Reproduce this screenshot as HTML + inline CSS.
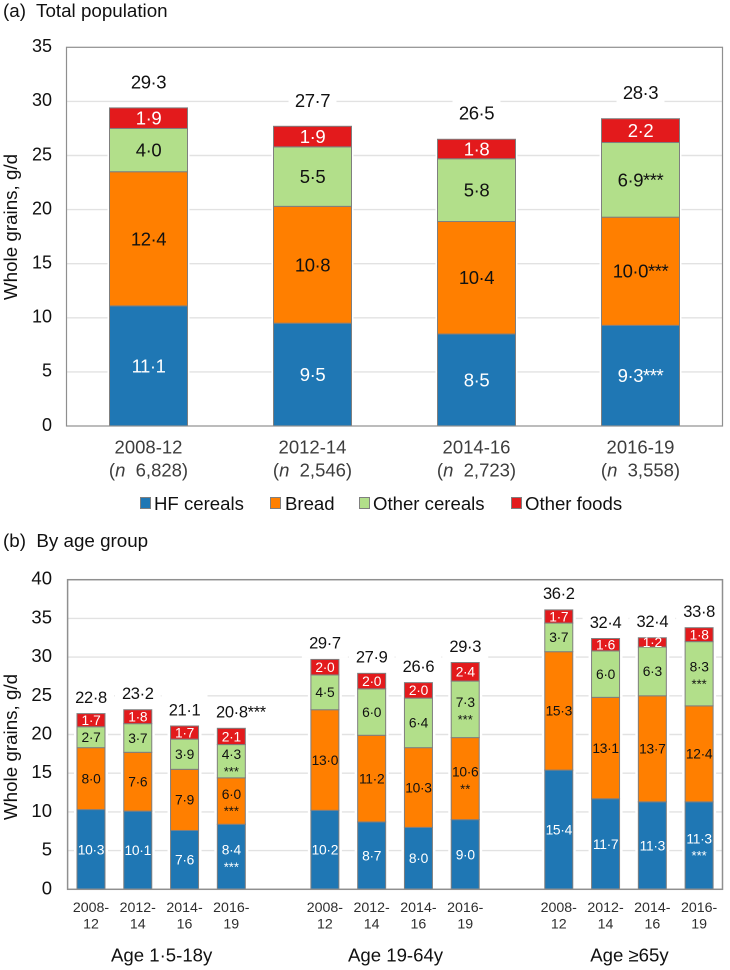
<!DOCTYPE html>
<html lang="en">
<head>
<meta charset="utf-8">
<title>Whole grains intake</title>
<style>
html,body{margin:0;padding:0;background:#fff;}
svg{display:block;font-family:"Liberation Sans",Arial,sans-serif;}
text{fill:#111;}
</style>
</head>
<body>
<svg id="chart" width="730" height="970" viewBox="0 0 730 970" xmlns="http://www.w3.org/2000/svg">
  <text x="3" y="17" font-size="18.8" xml:space="preserve">(a)  Total population</text>
  <text x="3" y="547" font-size="18.8" xml:space="preserve">(b)  By age group</text>
  <text transform="translate(17,227) rotate(-90)" text-anchor="middle" font-size="18.8">Whole grains, g/d</text>
  <text transform="translate(17,747) rotate(-90)" text-anchor="middle" font-size="18.8">Whole grains, g/d</text>
  <g>
    <rect x="140.5" y="497.5" width="10" height="11" fill="#1f77b4" stroke="#7f7f7f"/>
    <text x="154" y="510" font-size="18.6">HF cereals</text>
    <rect x="270.5" y="497.5" width="10" height="11" fill="#ff7f00" stroke="#7f7f7f"/>
    <text x="285" y="510" font-size="18.6">Bread</text>
    <rect x="359.5" y="497.5" width="10" height="11" fill="#b2df8a" stroke="#7f7f7f"/>
    <text x="373" y="510" font-size="18.6">Other cereals</text>
    <rect x="511.5" y="497.5" width="10" height="11" fill="#e31a1c" stroke="#7f7f7f"/>
    <text x="525" y="510" font-size="18.6">Other foods</text>
  </g>
  <g id="panel-a"></g>
  <g id="panel-b"></g>
</svg>
<script>
// Panel (a) data
const periodsA = ['2008-12', '2012-14', '2014-16', '2016-19'];
const sampleSizesA = ['6,828', '2,546', '2,723', '3,558'];
const hfCerealsA = [11.1, 9.5, 8.5, 9.3];
const breadA = [12.4, 10.8, 10.4, 10.0];
const otherCerealsA = [4.0, 5.5, 5.8, 6.9];
const otherFoodsA = [1.9, 1.9, 1.8, 2.2];
const totalsA = [29.3, 27.7, 26.5, 28.3];
const hfCerealsSigA = ['', '', '', '***'];
const breadSigA = ['', '', '', '***'];
const otherCerealsSigA = ['', '', '', '***'];
const otherFoodsSigA = ['', '', '', ''];
const totalsSigA = ['', '', '', ''];
const yTicksA = [0, 5, 10, 15, 20, 25, 30, 35];

// Panel (b) data
const periodsB = [
  '2008-', '2012-', '2014-', '2016-',
  '2008-', '2012-', '2014-', '2016-',
  '2008-', '2012-', '2014-', '2016-'
];
const periodEndsB = ['12', '14', '16', '19', '12', '14', '16', '19', '12', '14', '16', '19'];
const ageGroupsB = ['Age 1·5-18y', 'Age 19-64y', 'Age ≥65y'];
const hfCerealsB = [10.3, 10.1, 7.6, 8.4, 10.2, 8.7, 8.0, 9.0, 15.4, 11.7, 11.3, 11.3];
const breadB = [8.0, 7.6, 7.9, 6.0, 13.0, 11.2, 10.3, 10.6, 15.3, 13.1, 13.7, 12.4];
const otherCerealsB = [2.7, 3.7, 3.9, 4.3, 4.5, 6.0, 6.4, 7.3, 3.7, 6.0, 6.3, 8.3];
const otherFoodsB = [1.7, 1.8, 1.7, 2.1, 2.0, 2.0, 2.0, 2.4, 1.7, 1.6, 1.2, 1.8];
const totalsB = [22.8, 23.2, 21.1, 20.8, 29.7, 27.9, 26.6, 29.3, 36.2, 32.4, 32.4, 33.8];
const hfCerealsSigB = ['', '', '', '***', '', '', '', '', '', '', '', '***'];
const breadSigB = ['', '', '', '***', '', '', '', '**', '', '', '', ''];
const otherCerealsSigB = ['', '', '', '***', '', '', '', '***', '', '', '', '***'];
const otherFoodsSigB = ['', '', '', '', '', '', '', '', '', '', '', ''];
const totalsSigB = ['', '', '', '***', '', '', '', '', '', '', '', ''];
const yTicksB = [0, 5, 10, 15, 20, 25, 30, 35, 40];

const SVGNS = 'http://www.w3.org/2000/svg';
const seriesNames = ['hf-cereals', 'bread', 'other-cereals', 'other-foods'];
const seriesFill = ['#1f77b4', '#ff7f00', '#b2df8a', '#e31a1c'];
const seriesText = ['#fff', '#111', '#111', '#fff'];

function make(tag, attrs, parent, text) {
  const el = document.createElementNS(SVGNS, tag);
  for (const k in attrs) el.setAttribute(k, attrs[k]);
  if (text !== undefined) el.textContent = text;
  parent.appendChild(el);
  return el;
}
function fmt(v) {
  return v.toFixed(1).replace('.', '·');
}

function drawPanel(root, cfg) {
  const yScale = v => cfg.bottom - (v / cfg.yMax) * (cfg.bottom - cfg.top);
  const band = (cfg.right - cfg.left) / cfg.slotCount;
  const xCenter = i => cfg.left + band * (cfg.slot(i) + 0.5);

  // plot background and gridlines
  cfg.ticks.forEach(t => {
    const y = yScale(t);
    if (t > 0 && t < cfg.yMax) {
      const line = make('line', { x1: cfg.left, x2: cfg.right, y1: y, y2: y, stroke: '#e2e2e2', 'stroke-width': 1.4 }, root);
      
      
    }
    const label = make('text', { x: 52, y: y + cfg.tickSize * 0.35 - 1.5, 'text-anchor': 'end', 'font-size': cfg.tickSize }, root, String(t));
    
    
  });

  // white backing behind total labels and bars
  cfg.totals.forEach((total, i) => {
    const sum = cfg.series.reduce((a, s) => a + s[i], 0);
    const cy = yScale(sum) - cfg.totalGap;
    const back = make('rect', {
      x: xCenter(i) - cfg.totalBackW / 2,
      y: cy - cfg.totalBackH / 2,
      width: cfg.totalBackW,
      height: cfg.totalBackH,
      fill: '#fff'
    }, root);
    
    
    const halo = make('rect', {
      x: xCenter(i) - cfg.barWidth / 2 - cfg.halo,
      y: yScale(sum),
      width: cfg.barWidth + cfg.halo * 2,
      height: cfg.bottom - yScale(sum),
      fill: '#fff'
    }, root);
    
    
  });

  // stacked bars
  cfg.totals.forEach((total, i) => {
    let base = 0;
    cfg.series.forEach((values, s) => {
      const v = values[i];
      const y0 = yScale(base), y1 = yScale(base + v);
      const bar = make('rect', {
        x: xCenter(i) - cfg.barWidth / 2,
        y: y1,
        width: cfg.barWidth,
        height: y0 - y1,
        fill: seriesFill[s],
        stroke: '#7f7f7f',
        'stroke-width': 1
      }, root);
      
      
      base += v;
    });
  });

  // segment labels
  cfg.totals.forEach((total, i) => {
    let base = 0;
    cfg.series.forEach((values, s) => {
      const v = values[i];
      const c = yScale(base + v / 2);
      const sig = cfg.sig[s][i];
      if (cfg.inlineStars || !sig) {
        const t = make('text', {
          x: xCenter(i), y: c + cfg.segSize * 0.35,
          'text-anchor': 'middle', 'font-size': cfg.segSize,
          'letter-spacing': cfg.segSpacing
        }, root, fmt(v) + sig);
        t.style.fill = seriesText[s];
        
        
      } else {
        const t = make('text', {
          x: xCenter(i), y: c - 7 + cfg.segSize * 0.35,
          'text-anchor': 'middle', 'font-size': cfg.segSize,
          'letter-spacing': cfg.segSpacing
        }, root, fmt(v));
        t.style.fill = seriesText[s];
        
        
        const st = make('text', {
          x: xCenter(i), y: c + 7 + 13 * 0.59,
          'text-anchor': 'middle', 'font-size': 13
        }, root, sig);
        st.style.fill = seriesText[s];
        
        
      }
      base += v;
    });
  });

  // total labels
  cfg.totals.forEach((total, i) => {
    const sum = cfg.series.reduce((a, s) => a + s[i], 0);
    const sig = cfg.totalSig[i];
    const shift = sig ? sig.length * 0.389 * cfg.totalSize / 2 : 0;
    const t = make('text', {
      x: xCenter(i) + shift,
      y: yScale(sum) - cfg.totalGap + cfg.totalSize * 0.35,
      'text-anchor': 'middle',
      'font-size': cfg.totalSize,
      'letter-spacing': cfg.totalSpacing
    }, root, fmt(total) + sig);
    
    
  });

  // plot frame
  const frame = make('rect', {
    x: cfg.left, y: cfg.top,
    width: cfg.right - cfg.left, height: cfg.bottom - cfg.top,
    fill: 'none', stroke: '#8f8f8f', 'stroke-width': cfg.frameWidth
  }, root);
  
  

  // category labels
  cfg.drawCategories(xCenter, root);
}

drawPanel(document.getElementById('panel-a'), {
  id: 'panel-a',
  left: 66.5, right: 722.5, top: 47.3, bottom: 426,
  yMax: 35, ticks: yTicksA, tickSize: 18,
  slotCount: 4, slot: i => i, barWidth: 78, halo: 2,
  series: [hfCerealsA, breadA, otherCerealsA, otherFoodsA],
  sig: [hfCerealsSigA, breadSigA, otherCerealsSigA, otherFoodsSigA],
  totals: totalsA, totalSig: totalsSigA,
  segSize: 18.5, segSpacing: -0.45, totalSize: 18.5, totalSpacing: -0.45,
  totalGap: 26, totalBackW: 48, totalBackH: 26,
  inlineStars: true, frameWidth: 1.2,
  drawCategories: function (xCenter, root) {
    periodsA.forEach((p, i) => {
      const a = make('text', { x: xCenter(i), y: 453.5, 'text-anchor': 'middle', 'font-size': 18.5 }, root, p);
      a.style.fill = '#3d3d3d';
      
      
      const b = make('text', { x: xCenter(i), y: 476.5, 'text-anchor': 'middle', 'font-size': 18.5 }, root);
      b.style.fill = '#3d3d3d';
      
      
      make('tspan', {}, b, '(');
      make('tspan', { 'font-style': 'italic' }, b, 'n');
      make('tspan', {}, b, '\u00a0\u00a0' + sampleSizesA[i] + ')');
    });
  }
});

drawPanel(document.getElementById('panel-b'), {
  id: 'panel-b',
  left: 67.6, right: 722.5, top: 579.7, bottom: 889.3,
  yMax: 40, ticks: yTicksB, tickSize: 18.5,
  slotCount: 14, slot: i => i + Math.floor(i / 4), barWidth: 28, halo: 3,
  series: [hfCerealsB, breadB, otherCerealsB, otherFoodsB],
  sig: [hfCerealsSigB, breadSigB, otherCerealsSigB, otherFoodsSigB],
  totals: totalsB, totalSig: totalsSigB,
  segSize: 13.8, segSpacing: -0.3, totalSize: 16.5, totalSpacing: -0.35,
  totalGap: 16.5, totalBackW: 46, totalBackH: 30,
  inlineStars: false, frameWidth: 1.5,
  drawCategories: function (xCenter, root) {
    periodsB.forEach((p, i) => {
      const a = make('text', { x: xCenter(i), y: 912, 'text-anchor': 'middle', 'font-size': 14.2 }, root, p);
      a.style.fill = '#2e2e2e';
      
      
      const b = make('text', { x: xCenter(i), y: 928.5, 'text-anchor': 'middle', 'font-size': 14.2 }, root, periodEndsB[i]);
      b.style.fill = '#2e2e2e';
      
      
    });
    ageGroupsB.forEach((g, k) => {
      const mid = (xCenter(k * 4) + xCenter(k * 4 + 3)) / 2;
      const t = make('text', { x: mid + 0.5, y: 961.5, 'text-anchor': 'middle', 'font-size': 18.6 }, root, g);
      
      
    });
  }
});
</script>
</body>
</html>
